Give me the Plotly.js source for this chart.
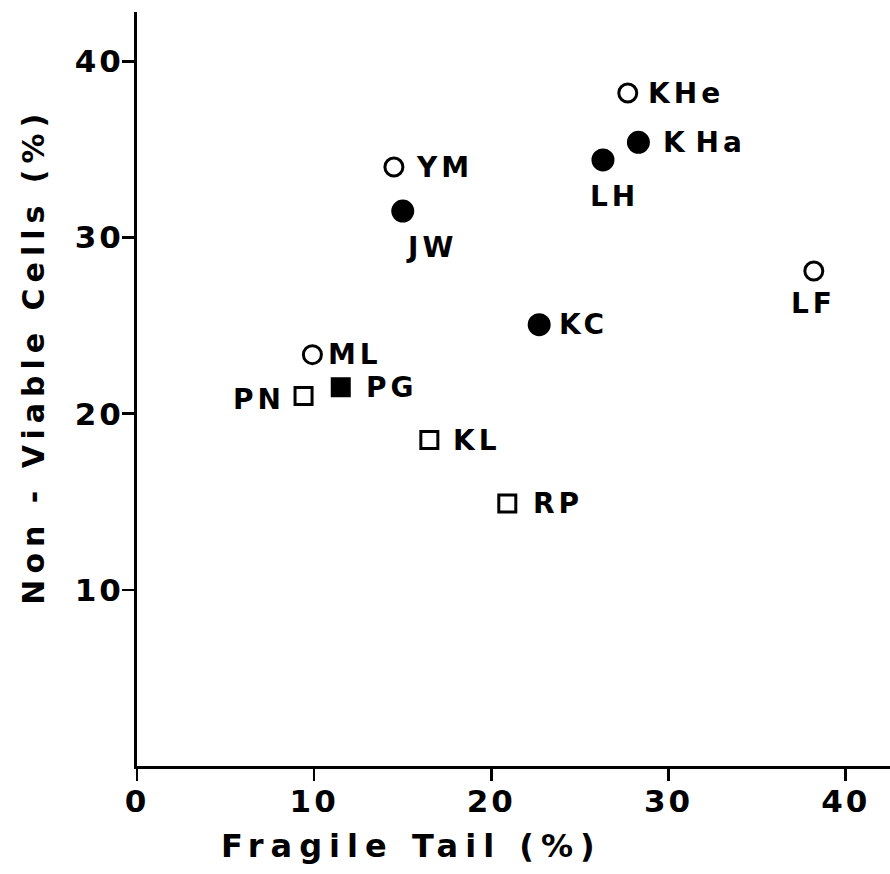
<!DOCTYPE html>
<html>
<head>
<meta charset="utf-8">
<script src="https://cdn.plot.ly/plotly-3.0.1.min.js"></script>
<style>
  html, body { margin: 0; padding: 0; background: #fff; }
  #chart { width: 890px; height: 874px; }
  .xtick text, .ytick text { letter-spacing: 3px; }
  .annotation-text { letter-spacing: 4px; }
</style>
</head>
<body>
<div id="chart"></div>
<script>
// ---- data ----
const openCircleNames = ["YM", "KHe", "LF", "ML"];
const openCircleX = [14.5, 27.7, 38.2, 9.9];
const openCircleY = [34.0, 38.2, 28.1, 23.35];

const filledCircleNames = ["JW", "LH", "K\u200AHa", "KC"];
const filledCircleX = [15.0, 26.3, 28.3, 22.7];
const filledCircleY = [31.5, 34.4, 35.4, 25.05];

const openSquareNames = ["PN", "KL", "RP"];
const openSquareX = [9.4, 16.5, 20.9];
const openSquareY = [21.0, 18.5, 14.9];

const filledSquareNames = ["PG"];
const filledSquareX = [11.5];
const filledSquareY = [21.5];

const xTickVals = [0, 10, 20, 30, 40];
const yTickVals = [10, 20, 30, 40];

const xTitle = "Fragile Tail (%)";
const yTitle = "Non - Viable Cells (%)";

// ---- label placement (styling, not data) ----
const labelPlacement = {
  "YM":   {anchor: "left",   dx: 20, dy: 0},
  "KHe":  {anchor: "left",   dx: 18, dy: 0},
  "LF":   {anchor: "center", dx: 0,  dy: 33},
  "ML":   {anchor: "left",   dx: 14, dy: 0},
  "JW":   {anchor: "center", dx: 29, dy: 36},
  "LH":   {anchor: "center", dx: 12, dy: 37},
  "K\u200AHa": {anchor: "left", dx: 23, dy: 0},
  "KC":   {anchor: "left",   dx: 18, dy: 0},
  "PN":   {anchor: "right",  dx: -17, dy: 3},
  "KL":   {anchor: "left",   dx: 22, dy: 0},
  "RP":   {anchor: "left",   dx: 24, dy: 0},
  "PG":   {anchor: "left",   dx: 23, dy: 0}
};

const FONT = "DejaVu Sans, sans-serif";

function trace(names, xs, ys, symbol, size) {
  return {
    type: "scatter", mode: "markers", x: xs, y: ys, text: names,
    hoverinfo: "text",
    marker: {symbol: symbol, size: size, color: "#000",
             line: {color: "#000", width: 3}},
    showlegend: false, cliponaxis: false
  };
}

const traces = [
  trace(openCircleNames, openCircleX, openCircleY, "circle-open", 18),
  trace(filledCircleNames, filledCircleX, filledCircleY, "circle", 20),
  trace(openSquareNames, openSquareX, openSquareY, "square-open", 17),
  trace(filledSquareNames, filledSquareX, filledSquareY, "square", 17)
];

const annotations = [
  {text: xTitle, xref: "paper", yref: "paper", x: 0.365, y: -0.106,
   xanchor: "center", yanchor: "middle", showarrow: false,
   font: {family: FONT, size: 32, color: "#000", weight: "bold"}},
  {text: yTitle, xref: "paper", yref: "paper", x: -0.138, y: 0.543,
   xanchor: "center", yanchor: "middle", showarrow: false, textangle: -90,
   font: {family: FONT, size: 30, color: "#000", weight: "bold"}}
];

function addLabels(names, xs, ys) {
  names.forEach((n, i) => {
    const p = labelPlacement[n];
    annotations.push({
      text: n, x: xs[i], y: ys[i], xref: "x", yref: "y",
      xanchor: p.anchor, yanchor: "middle", xshift: p.dx, yshift: -p.dy,
      showarrow: false,
      font: {family: FONT, size: 28, color: "#000", weight: "bold"}
    });
  });
}
addLabels(openCircleNames, openCircleX, openCircleY);
addLabels(filledCircleNames, filledCircleX, filledCircleY);
addLabels(openSquareNames, openSquareX, openSquareY);
addLabels(filledSquareNames, filledSquareX, filledSquareY);

const axisCommon = {
  showline: true, linecolor: "#000", linewidth: 3,
  showgrid: false, zeroline: false,
  ticks: "outside", tickcolor: "#000", tickwidth: 2.5,
  tickmode: "array",
  tickfont: {family: FONT, size: 31, color: "#000", weight: "bold"}
};

const layout = {
  width: 890, height: 874,
  margin: {l: 137, r: 0, t: 12, b: 108},
  paper_bgcolor: "#fff", plot_bgcolor: "#fff",
  showlegend: false,
  xaxis: Object.assign({}, axisCommon, {
    range: [0, 42.5], tickvals: xTickVals, ticktext: xTickVals.map(String),
    ticklen: 12, ticklabelstandoff: -6
  }),
  yaxis: Object.assign({}, axisCommon, {
    range: [0, 42.8], tickvals: yTickVals, ticktext: yTickVals.map(String),
    ticklen: 12, ticklabelstandoff: -8
  }),
  annotations: annotations
};

Plotly.newPlot("chart", traces, layout, {staticPlot: true}).then(() => {
  const groups = document.querySelectorAll("g.annotation");
  groups.forEach(g => {
    const idx = g.getAttribute("data-index");
    const t = g.querySelector("text");
    if (!t) return;
    if (idx === "0") t.style.letterSpacing = "7px";
    if (idx === "1") t.style.letterSpacing = "6px";
  });
});
</script>
</body>
</html>
